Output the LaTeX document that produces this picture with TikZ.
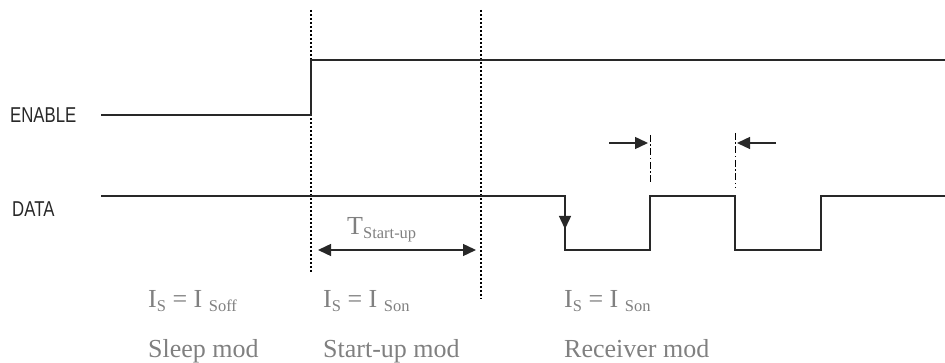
\documentclass[tikz,border=0pt]{standalone}
\usepackage{fontspec}
\setmainfont{Liberation Serif}
\newfontfamily\labfont{Liberation Sans}
\usetikzlibrary{arrows.meta}
\definecolor{txtgray}{RGB}{128,128,128}
\definecolor{sig}{RGB}{40,40,40}
\newcommand{\bigf}{\fontsize{26}{30}\selectfont}
\newcommand{\subf}[1]{\raisebox{-4pt}{\fontsize{16.5}{18}\selectfont #1}}
\newcommand{\narrow}[1]{\scalebox{0.78}[1.0]{#1}}
\tikzset{
  signal/.style={draw=sig, line width=1.4pt},
  dotline/.style={draw=black, line width=1.2pt, dash pattern=on 1.8pt off 2.2pt},
  dashdotline/.style={draw=black, line width=1pt, dash pattern=on 7pt off 2.5pt on 1.5pt off 2.5pt},
  arr/.style={draw=sig, line width=1.4pt, -{Triangle[length=13pt,width=12pt]}},
  darr/.style={draw=sig, line width=1.4pt, {Triangle[length=13pt,width=12pt]}-{Triangle[length=13pt,width=12pt]}},
  siglabel/.style={anchor=base west, inner sep=0pt, text=sig, font=\labfont\fontsize{21.5}{23}\selectfont},
  graytext/.style={anchor=base west, inner sep=0pt, text=txtgray, font=\bigf},
}
\begin{document}
\begin{tikzpicture}[x=1pt,y=-1pt]
\useasboundingbox (0,0) rectangle (945,363);
% labels
\node[siglabel] (enlab) at (10,122.5) {\narrow{ENABLE}};
\node[siglabel] (datlab) at (12,216.5) {\narrow{DATA}};
% coordinates
\coordinate (e0) at (101,115);
\coordinate (e1) at (311,115);
\coordinate (e2) at (311,60);
\coordinate (e3) at (945,60);
\coordinate (d0) at (101,196);
\coordinate (d1) at (565,196);
\coordinate (d1m) at (565,229);
\coordinate (d2) at (565,250);
\coordinate (d3) at (650,250);
\coordinate (d4) at (650,196);
\coordinate (d5) at (735,196);
\coordinate (d6) at (735,250);
\coordinate (d7) at (821,250);
\coordinate (d8) at (821,196);
\coordinate (d9) at (945,196);
% dotted verticals
\coordinate (v1t) at (311,10);
\coordinate (v1b) at (311,273);
\coordinate (v2t) at (481,10);
\coordinate (v2b) at (481,299);
\draw[dotline] (v1t) -- (v1b);
\draw[dotline] (v2t) -- (v2b);
% dash-dot markers
\coordinate (m1t) at (650,135);
\coordinate (m1b) at (650,185);
\coordinate (m2t) at (735,133);
\coordinate (m2b) at (735,188);
\draw[dashdotline] (m1t) -- (m1b);
\draw[dashdotline] (m2t) -- (m2b);
% signals
\draw[signal] (e0) -- (e1) -- (e2) -- (e3);
\draw[signal] (d0) -- (d1) -- (d2) -- (d3) -- (d4) -- (d5) -- (d6) -- (d7) -- (d8) -- (d9);
\draw[arr] (d1) -- (d1m);
% timing arrows
\coordinate (a1s) at (609,143);
\coordinate (a1e) at (648,143);
\coordinate (a2s) at (776,143);
\coordinate (a2e) at (737,143);
\draw[arr] (a1s) -- (a1e);
\draw[arr] (a2s) -- (a2e);
\coordinate (ts) at (318,250);
\coordinate (te) at (476,250);
\draw[darr] (ts) -- (te);
\node[graytext] (tlab) at (347,235) {T\subf{Start-up}};
% mode texts
\node[graytext] (is1) at (148,308) {I\subf{S} = I \subf{Soff}};
\node[graytext] (md1) at (148,357) {Sleep mod};
\node[graytext] (is2) at (323,308) {I\subf{S} = I \subf{Son}};
\node[graytext] (md2) at (323,357) {Start-up mod};
\node[graytext] (is3) at (564,308) {I\subf{S} = I \subf{Son}};
\node[graytext] (md3) at (564,357) {Receiver mod};
\end{tikzpicture}
\end{document}
